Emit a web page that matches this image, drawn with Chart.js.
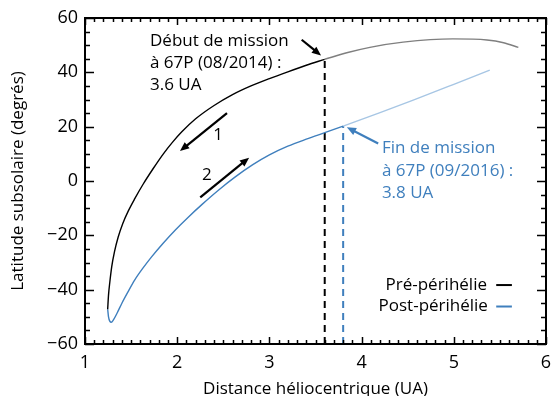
<!DOCTYPE html>
<html>
<head>
<meta charset="utf-8">
<script src="https://cdn.jsdelivr.net/npm/chart.js@4"></script>
<style>
  html, body { margin: 0; padding: 0; background: #fff; }
  #wrap { width: 551px; height: 396px; }
</style>
</head>
<body>
<div id="wrap"><canvas id="latChart" width="551" height="396"></canvas></div>
<script>
// pre-perihelion track (solid black up to mission start, grey beyond)
const preX = [1.246, 1.255, 1.27, 1.29, 1.32, 1.36, 1.41, 1.47, 1.54, 1.63, 1.74, 1.85, 1.95, 2.05, 2.20, 2.40, 2.60, 2.80, 3.00, 3.20, 3.40, 3.60];
const preY = [-47.2, -42.0, -37.0, -31.5, -26.0, -20.6, -15.6, -11.0, -6.5, -1.2, 4.6, 10.0, 14.3, 18.1, 22.9, 27.8, 31.8, 35.0, 37.7, 40.2, 42.6, 44.8];
const preLateX = [3.60, 3.85, 4.09, 4.45, 4.99, 5.36, 5.54, 5.70];
const preLateY = [44.8, 47.3, 49.2, 51.1, 52.3, 51.9, 50.9, 49.2];

// post-perihelion track (blue up to mission end, light blue beyond)
const postX = [1.246, 1.255, 1.27, 1.285, 1.31, 1.35, 1.40, 1.46, 1.54, 1.63, 1.72, 1.85, 1.98, 2.12, 2.27, 2.45, 2.63, 2.82, 3.00, 3.20, 3.40, 3.60, 3.80];
const postY = [-47.2, -50.0, -51.7, -52.0, -51.0, -48.5, -45.0, -41.2, -36.4, -32.0, -28.0, -22.8, -18.0, -13.3, -8.6, -3.3, 1.5, 6.0, 9.6, 12.8, 15.4, 17.8, 20.2];
const postLateX = [3.80, 4.20, 4.56, 5.00, 5.39];
const postLateY = [20.2, 25.2, 29.8, 35.6, 40.8];

const missionStart = 3.6;  // UA, 08/2014
const missionEnd = 3.8;    // UA, 09/2016

const xTicks = [1, 2, 3, 4, 5, 6];
const yTicks = [-60, -40, -20, 0, 20, 40, 60];

const BLUE = '#3f7fbd';
const FONT = 'Open Sans';

const pts = (xs, ys) => xs.map((x, i) => ({ x: x, y: ys[i] }));

const curve = (xs, ys, color) => ({
  data: pts(xs, ys),
  borderColor: color,
  borderWidth: 1.4,
  showLine: true,
  pointRadius: 0,
  cubicInterpolationMode: 'monotone',
  fill: false
});

const dropLine = (x, y, color) => ({
  data: [{ x: x, y: -60 }, { x: x, y: y }],
  borderColor: color,
  borderWidth: 2,
  borderDash: [7, 5],
  showLine: true,
  pointRadius: 0,
  tension: 0
});

// frame with inward ticks on all four sides
const framePlugin = {
  id: 'frame',
  afterDatasetsDraw(chart) {
    const { ctx, chartArea: a, scales: { x, y } } = chart;
    ctx.save();
    ctx.strokeStyle = '#000';
    ctx.lineWidth = 1.5;
    ctx.beginPath();
    for (let v = 1; v <= 6.0001; v += 0.1) {
      const px = Math.round(x.getPixelForValue(v)) + 0.5;
      const major = Math.abs(v - Math.round(v)) < 1e-6;
      const len = major ? 7 : 4;
      ctx.moveTo(px, a.bottom); ctx.lineTo(px, a.bottom - len);
      ctx.moveTo(px, a.top); ctx.lineTo(px, a.top + len);
    }
    for (let v = -60; v <= 60; v += 5) {
      const py = Math.round(y.getPixelForValue(v)) + 0.5;
      const len = v % 20 === 0 ? 9 : 5;
      ctx.moveTo(a.left, py); ctx.lineTo(a.left + len, py);
      ctx.moveTo(a.right, py); ctx.lineTo(a.right - len, py);
    }
    ctx.stroke();
    ctx.lineWidth = 2;
    ctx.strokeRect(a.left, a.top, a.right - a.left, a.bottom - a.top);
    ctx.restore();
  }
};

function arrow(ctx, x0, y0, x1, y1, color, head) {
  const ang = Math.atan2(y1 - y0, x1 - x0);
  ctx.strokeStyle = color;
  ctx.fillStyle = color;
  ctx.lineWidth = 2.2;
  ctx.beginPath();
  ctx.moveTo(x0, y0);
  ctx.lineTo(x1 - Math.cos(ang) * head * 0.8, y1 - Math.sin(ang) * head * 0.8);
  ctx.stroke();
  ctx.beginPath();
  ctx.moveTo(x1, y1);
  ctx.lineTo(x1 - head * Math.cos(ang - 0.4), y1 - head * Math.sin(ang - 0.4));
  ctx.lineTo(x1 - head * Math.cos(ang + 0.4), y1 - head * Math.sin(ang + 0.4));
  ctx.closePath();
  ctx.fill();
}

// labels, direction arrows and legend
const notesPlugin = {
  id: 'notes',
  afterDatasetsDraw(chart) {
    const { ctx, scales: { x, y } } = chart;
    const X = v => x.getPixelForValue(v);
    const Y = v => y.getPixelForValue(v);
    ctx.save();
    ctx.font = '17px "' + FONT + '"';
    ctx.textBaseline = 'middle';
    ctx.textAlign = 'left';

    ctx.fillStyle = '#000';
    ctx.fillText('Début de mission', X(1.705), Y(51.6));
    ctx.fillText('à 67P (08/2014) :', X(1.705), Y(43.5));
    ctx.fillText(missionStart.toFixed(1) + ' UA', X(1.705), Y(35.2));
    arrow(ctx, X(3.35), Y(52), X(3.56), Y(46.2), '#000', 10);

    ctx.fillStyle = BLUE;
    ctx.fillText('Fin de mission', X(4.22), Y(12.1));
    ctx.fillText('à 67P (09/2016) :', X(4.22), Y(3.8));
    ctx.fillText(missionEnd.toFixed(1) + ' UA', X(4.22), Y(-4.4));
    arrow(ctx, X(4.18), Y(13.8), X(3.84), Y(19.8), BLUE, 10);

    arrow(ctx, X(2.54), Y(25), X(2.03), Y(11), '#000', 10);
    arrow(ctx, X(2.25), Y(-6), X(2.78), Y(8.6), '#000', 10);
    ctx.fillStyle = '#000';
    ctx.fillText('1', X(2.39), Y(17));
    ctx.fillText('2', X(2.27), Y(2.2));

    // legend
    ctx.textAlign = 'right';
    ctx.fillText('Pré-périhélie', X(5.36), Y(-38.2));
    ctx.fillText('Post-périhélie', X(5.37), Y(-46.2));
    ctx.lineWidth = 2;
    ctx.strokeStyle = '#000';
    ctx.beginPath(); ctx.moveTo(X(5.46), Y(-38.3)); ctx.lineTo(X(5.63), Y(-38.3)); ctx.stroke();
    ctx.strokeStyle = BLUE;
    ctx.beginPath(); ctx.moveTo(X(5.46), Y(-46.2)); ctx.lineTo(X(5.63), Y(-46.2)); ctx.stroke();
    ctx.restore();
  }
};

new Chart(document.getElementById('latChart'), {
  type: 'scatter',
  data: {
    datasets: [
      curve(preLateX, preLateY, '#7f7f7f'),
      curve(postLateX, postLateY, '#a7c6e4'),
      curve(preX, preY, '#000'),
      curve(postX, postY, BLUE),
      dropLine(missionStart, preLateY[0], '#000'),
      dropLine(missionEnd, postLateY[0], BLUE)
    ]
  },
  options: {
    responsive: false,
    animation: false,
    layout: { padding: { top: 18, right: 5, left: 0, bottom: 0 } },
    plugins: { legend: { display: false }, tooltip: { enabled: false } },
    scales: {
      x: {
        type: 'linear', min: 1, max: 6,
        afterBuildTicks: s => { s.ticks = xTicks.map(v => ({ value: v })); },
        afterFit: s => { s.height = 52; s.paddingLeft = 0; s.paddingRight = 0; },
        grid: { display: false, drawTicks: false },
        border: { display: false },
        ticks: { padding: 8, color: '#000', font: { family: FONT, size: 18 } },
        title: {
          display: true, text: 'Distance héliocentrique (UA)', color: '#000',
          font: { family: FONT, size: 17 }, padding: { top: 0, bottom: -3 }
        }
      },
      y: {
        type: 'linear', min: -60, max: 60,
        afterBuildTicks: s => { s.ticks = yTicks.map(v => ({ value: v })); },
        afterFit: s => { s.width = 85; s.paddingTop = 0; s.paddingBottom = 0; },
        grid: { display: false, drawTicks: false },
        border: { display: false },
        ticks: {
          padding: 7, color: '#000', font: { family: FONT, size: 18 },
          callback: v => String(v).replace('-', '\u2212')
        },
        title: {
          display: true, text: 'Latitude subsolaire (degrés)', color: '#000',
          font: { family: FONT, size: 17 }, padding: { top: 8, bottom: 0 }
        }
      }
    }
  },
  plugins: [framePlugin, notesPlugin]
});
</script>
</body>
</html>
